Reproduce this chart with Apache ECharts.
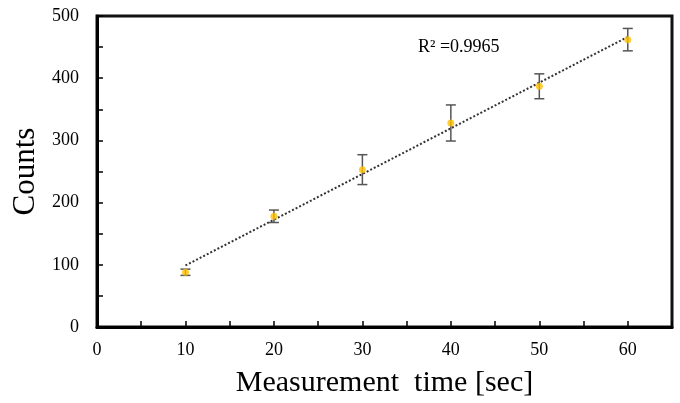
<!DOCTYPE html>
<html>
<head>
<meta charset="utf-8">
<script src="https://cdn.jsdelivr.net/npm/echarts@6/dist/echarts.min.js"></script>
<style>
  html, body { margin: 0; padding: 0; background: #fff; }
  #main { width: 680px; height: 403px; }
</style>
</head>
<body>
<div id="main"></div>
<script>
var times = [10, 20, 30, 40, 50, 60];
var counts = [88, 178, 253, 328, 387, 462];
var errs = [5, 10, 24, 29, 20, 18];
var r2Text = 'R² =0.9965';

// least squares line through the points (the trendline)
var n = times.length, sx = 0, sy = 0, sxx = 0, sxy = 0;
for (var i = 0; i < n; i++) {
    sx += times[i]; sy += counts[i];
    sxx += times[i] * times[i]; sxy += times[i] * counts[i];
}
var slope = (n * sxy - sx * sy) / (n * sxx - sx * sx);
var icpt = (sy - slope * sx) / n;
var xFirst = times[0], xLast = times[n - 1];
var trend = [[xFirst, icpt + slope * xFirst], [xLast, icpt + slope * xLast]];

var pts = [], bars = [];
for (var j = 0; j < n; j++) {
    pts.push([times[j], counts[j]]);
    bars.push([times[j], counts[j] - errs[j], counts[j] + errs[j]]);
}

var serif = '"Liberation Serif", "DejaVu Serif", serif';

var chart = echarts.init(document.getElementById('main'));
var option = {
    animation: false,
    backgroundColor: '#fff',
    grid: {
        left: 97, top: 16, right: 8, bottom: 76,
        show: true, borderColor: '#111', borderWidth: 3
    },
    xAxis: {
        type: 'value',
        min: 0, max: 65, interval: 10,
        name: 'Measurement  time [sec]',
        nameLocation: 'middle',
        nameGap: 41,
        nameTextStyle: { fontFamily: serif, fontSize: 30, color: '#000' },
        axisLine: { show: true, onZero: false, lineStyle: { color: '#000', width: 3 } },
        axisTick: { inside: true, length: 6, lineStyle: { color: '#000', width: 1.5 } },
        minorTick: { show: true, splitNumber: 2, length: 6, lineStyle: { color: '#000', width: 1.5 } },
        splitLine: { show: false },
        axisLabel: {
            margin: 14, fontFamily: serif, fontSize: 18, color: '#000',
            showMaxLabel: false
        }
    },
    yAxis: {
        type: 'value',
        min: 0, max: 500, interval: 100,
        name: 'Counts',
        nameLocation: 'middle',
        nameGap: 54,
        nameTextStyle: { fontFamily: serif, fontSize: 31, color: '#000' },
        axisLine: { show: true, onZero: false, lineStyle: { color: '#000', width: 3 } },
        axisTick: { inside: true, length: 6, lineStyle: { color: '#000', width: 1.5 } },
        minorTick: { show: true, splitNumber: 2, length: 6, lineStyle: { color: '#000', width: 1.5 } },
        splitLine: { show: false },
        axisLabel: { margin: 18, fontFamily: serif, fontSize: 18, color: '#000' }
    },
    graphic: [{
        type: 'text',
        left: 418, top: 38,
        style: { text: r2Text, font: '18px ' + serif, fill: '#000' }
    }],
    series: [
        {
            name: 'trend',
            type: 'line',
            data: trend,
            symbol: 'none',
            lineStyle: { color: '#333', width: 2, type: [2, 2] },
            z: 2
        },
        {
            name: 'errors',
            type: 'custom',
            data: bars,
            renderItem: function (params, api) {
                var x = api.value(0);
                var lo = api.coord([x, api.value(1)]);
                var hi = api.coord([x, api.value(2)]);
                var w = 5;
                var st = { stroke: '#555', lineWidth: 1.5 };
                return {
                    type: 'group',
                    children: [
                        { type: 'line', shape: { x1: lo[0], y1: lo[1], x2: hi[0], y2: hi[1] }, style: st },
                        { type: 'line', shape: { x1: lo[0] - w, y1: lo[1], x2: lo[0] + w, y2: lo[1] }, style: st },
                        { type: 'line', shape: { x1: hi[0] - w, y1: hi[1], x2: hi[0] + w, y2: hi[1] }, style: st }
                    ]
                };
            },
            z: 3
        },
        {
            name: 'Counts',
            type: 'scatter',
            data: pts,
            symbol: 'circle',
            symbolSize: 7,
            itemStyle: { color: '#FFC000' },
            z: 4
        }
    ]
};
chart.setOption(option);
</script>
</body>
</html>
